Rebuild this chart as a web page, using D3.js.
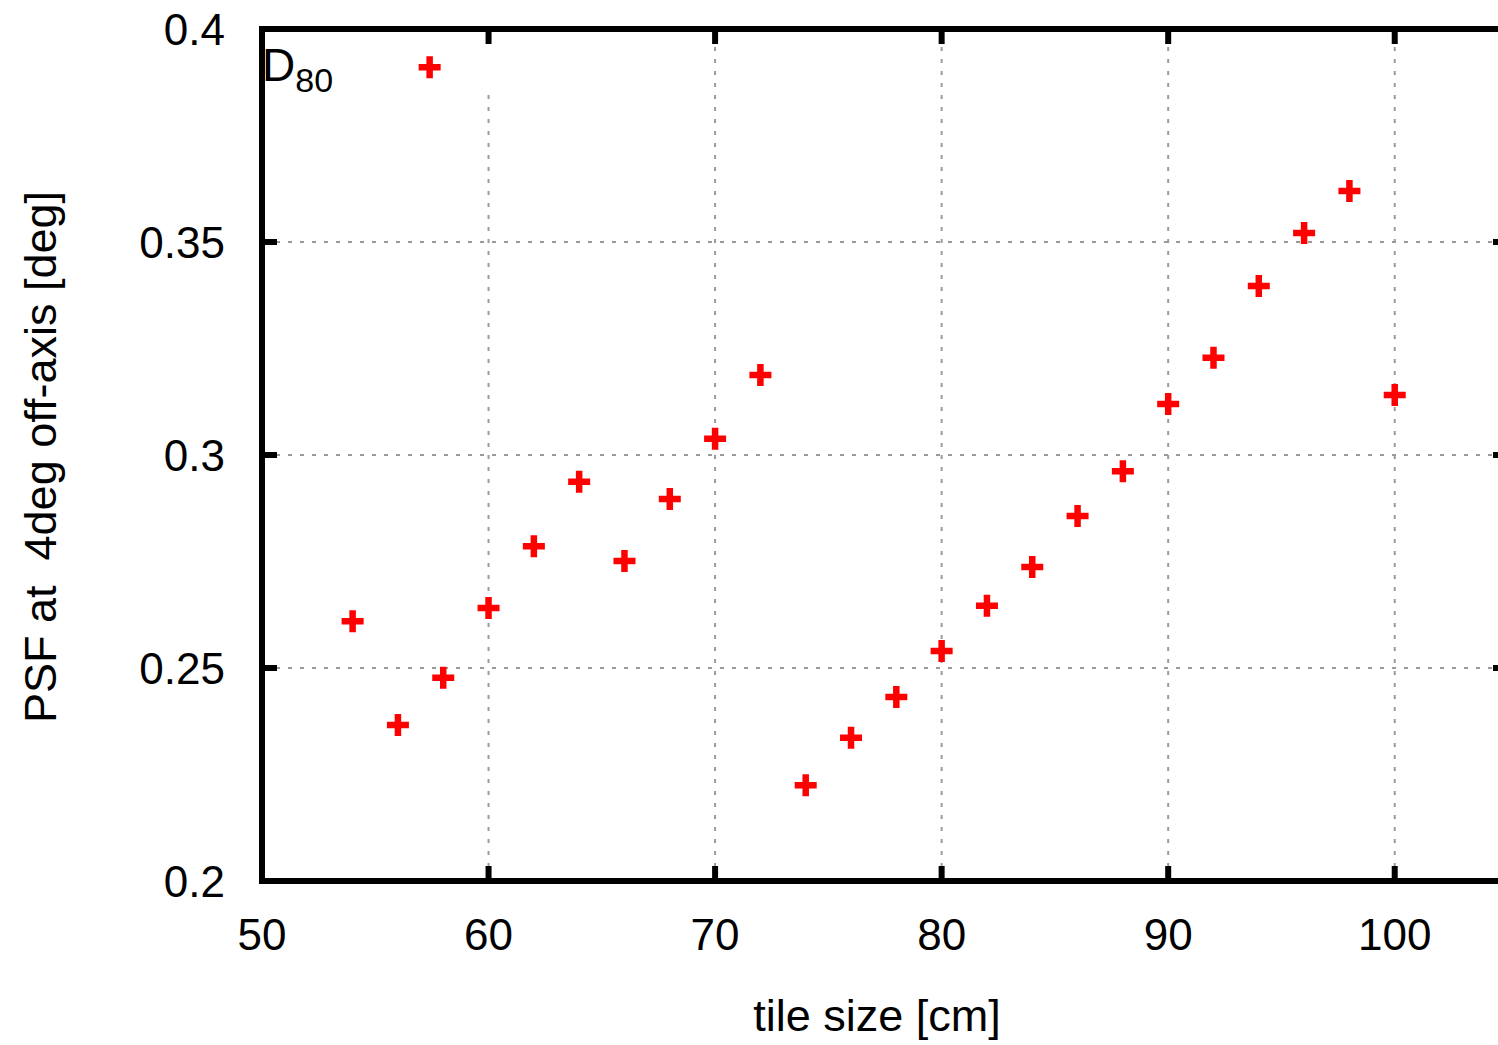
<!DOCTYPE html>
<html>
<head>
<meta charset="utf-8">
<script src="https://cdn.jsdelivr.net/npm/d3@7"></script>
<style>
  html, body { margin: 0; padding: 0; background: #fff; overflow: hidden; }
  svg { display: block; }
  text { font-family: "Liberation Sans", Arial, Helvetica, sans-serif; fill: #000; }
</style>
</head>
<body>
<svg id="chart" width="1498" height="1045"></svg>
<script>
// Tile size [cm] and PSF (D80) at 4 deg off-axis [deg]
const tileSize = [54, 56, 57.4, 58, 60, 62, 64, 66, 68, 70, 72,
                  74, 76, 78, 80, 82, 84, 86, 88, 90, 92, 94, 96, 98, 100];
const psf = [0.2610, 0.2366, 0.3910, 0.2477, 0.2641, 0.2786, 0.2937, 0.2751, 0.2897, 0.3038, 0.3188,
             0.2225, 0.2336, 0.2432, 0.2540, 0.2646, 0.2737, 0.2857, 0.2962, 0.3120, 0.3228, 0.3397, 0.3521, 0.3620, 0.3141];

const xTicks = [50, 60, 70, 80, 90, 100];
const yTicks = [0.2, 0.25, 0.3, 0.35, 0.4];
const yTickLabels = ["0.2", "0.25", "0.3", "0.35", "0.4"];

const plot = { left: 262, right: 1508, top: 29, bottom: 881 };

const svg = d3.select("#chart");
const x = d3.scaleLinear().domain([50, 105]).range([plot.left, plot.right]);
const y = d3.scaleLinear().domain([0.2, 0.4]).range([plot.bottom, plot.top]);

// Dotted grid
const grid = svg.append("g").attr("stroke", "#9a9a9a").attr("stroke-width", 2)
  .attr("stroke-dasharray", "4,8");
grid.selectAll("line.v").data(xTicks.filter(d => d > 50)).join("line")
  .attr("x1", d => x(d)).attr("x2", d => x(d))
  .attr("y1", plot.bottom - 14).attr("y2", plot.top + 14);
grid.selectAll("line.h").data(yTicks.filter(d => d > 0.2 && d < 0.4)).join("line")
  .attr("y1", d => y(d)).attr("y2", d => y(d))
  .attr("x1", plot.left + 14).attr("x2", plot.right - 14);

// Key area blanks the grid behind the title
svg.append("rect").attr("x", plot.left + 4).attr("y", plot.top + 4)
  .attr("width", 240).attr("height", 58).attr("fill", "#fff");

// Axis ticks (mirrored on all sides, pointing inward)
const tk = svg.append("g").attr("stroke", "#000").attr("stroke-width", 6);
xTicks.forEach(d => {
  tk.append("line").attr("x1", x(d)).attr("x2", x(d)).attr("y1", plot.bottom).attr("y2", plot.bottom - 15);
  tk.append("line").attr("x1", x(d)).attr("x2", x(d)).attr("y1", plot.top).attr("y2", plot.top + 15);
});
yTicks.forEach(d => {
  tk.append("line").attr("x1", plot.left).attr("x2", plot.left + 15).attr("y1", y(d)).attr("y2", y(d));
  tk.append("line").attr("x1", plot.right).attr("x2", plot.right - 15).attr("y1", y(d)).attr("y2", y(d));
});

// Frame
svg.append("rect")
  .attr("x", plot.left).attr("y", plot.top)
  .attr("width", plot.right - plot.left).attr("height", plot.bottom - plot.top)
  .attr("fill", "none").attr("stroke", "#000").attr("stroke-width", 6);

// Tick labels
svg.append("g").selectAll("text").data(xTicks).join("text")
  .attr("x", d => x(d)).attr("y", 950)
  .attr("text-anchor", "middle").attr("font-size", 44)
  .text(d => d);
svg.append("g").selectAll("text").data(yTicks).join("text")
  .attr("x", 225).attr("y", d => y(d) + 16)
  .attr("text-anchor", "end").attr("font-size", 44)
  .text((d, i) => yTickLabels[i]);

// Axis titles
svg.append("text").attr("x", 877).attr("y", 1031)
  .attr("text-anchor", "middle").attr("font-size", 45)
  .text("tile size [cm]");
svg.append("text")
  .attr("transform", "translate(56,457) rotate(-90)")
  .attr("text-anchor", "middle").attr("font-size", 45)
  .attr("xml:space", "preserve")
  .text("PSF at  4deg off-axis [deg]");

// Key title D_80
const key = svg.append("text").attr("x", 262).attr("y", 81).attr("font-size", 46);
key.append("tspan").text("D");
key.append("tspan").attr("font-size", 34).attr("dy", 11).text("80");

// Data points as plus markers
svg.append("g").selectAll("path").data(tileSize).join("path")
  .attr("transform", (d, i) => `translate(${x(d)},${y(psf[i])})`)
  .attr("d", "M-11,0H11M0,-11V11")
  .attr("stroke", "#ff0000").attr("stroke-width", 6.5).attr("fill", "none");
</script>
</body>
</html>
